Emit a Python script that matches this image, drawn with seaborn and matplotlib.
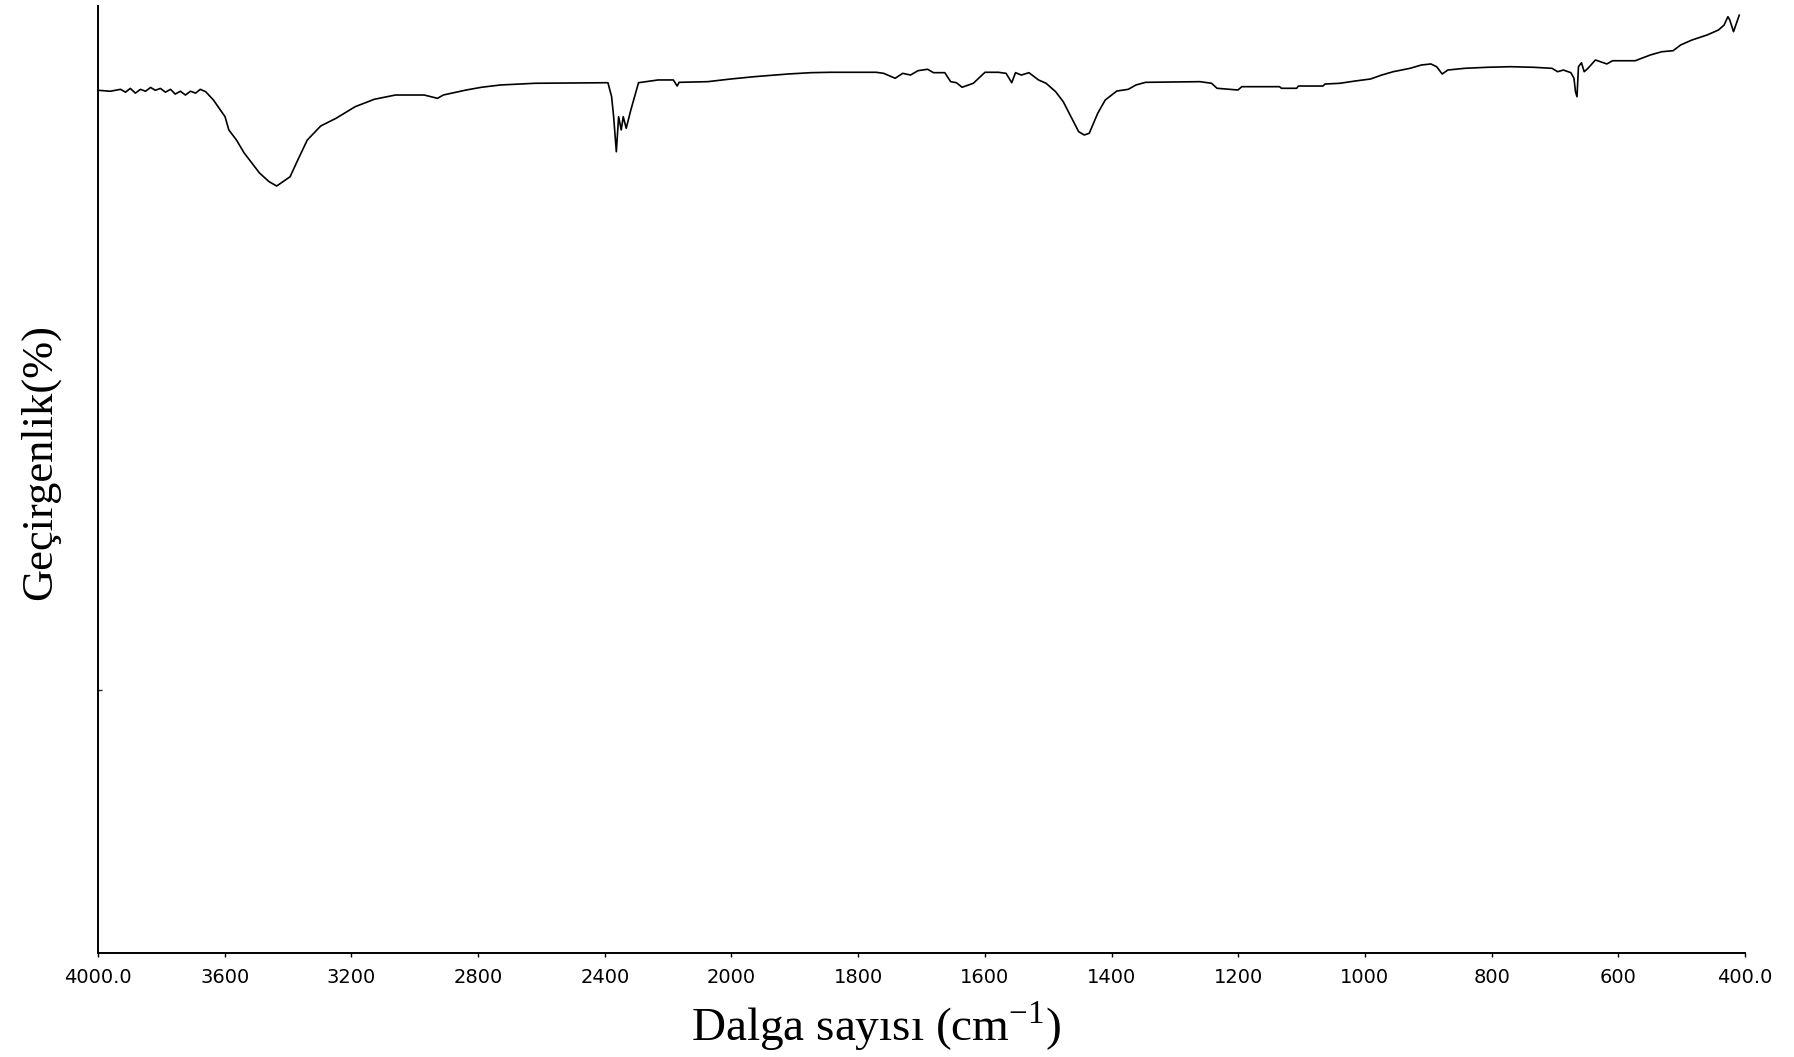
import numpy as np
import pandas as pd
import matplotlib
matplotlib.use("Agg")
import matplotlib.pyplot as plt
import seaborn as sns

# Wavenumber (cm^-1) and transmittance (%)
wavenumber = [
    4000, 3961, 3929, 3913, 3898, 3882, 3866, 3850, 3834, 3819, 3803, 3787, 3771,
    3756, 3740, 3724, 3708, 3692, 3677, 3660, 3635.5, 3598.9, 3586.9, 3562.9,
    3538.5, 3490.2, 3459.9, 3435.9, 3393.5, 3369.2, 3339.2, 3296.9, 3248.6,
    3187.9, 3127.6, 3060.9, 2970.3, 2928, 2910, 2837.3, 2789, 2729, 2620, 2390,
    2378.4, 2372, 2363.5, 2356.3, 2348, 2341.7, 2332.3, 2317.7, 2293.4, 2231.8,
    2183.5, 2171.5, 2165.2, 2075.1, 2002.5,
    1965, 1910.6, 1874.3, 1844.2, 1771.8, 1759.7, 1741.6, 1729.6, 1717.4,
    1705.5, 1690.3, 1681.2, 1663.2, 1654, 1644.9, 1635.9, 1618.1, 1599.8,
    1578.7, 1566.5, 1557.5, 1551.6, 1542.4, 1530.4, 1515.3, 1503.3, 1488.2,
    1476.2, 1464, 1451.9, 1443.1, 1435.2, 1421.8, 1410, 1391.7, 1373.7, 1361.4,
    1346.3, 1260.2, 1242.2, 1233.4, 1200.4, 1194.4, 1134.8, 1131.8, 1107.8,
    1104.9, 1066.2, 1063.1, 1039.4, 1015.3, 991.3, 973.5, 955.5, 928.7, 910.8,
    895.9, 886.8, 878, 869.1, 842.3, 806.2, 770.4, 734.6, 704.7, 695.7, 686.8,
    674.9, 670, 667.6, 665.2, 662.9, 658.1, 653.9, 647.9, 636.1, 618.1, 609.1,
    573.3, 549.3, 531.4, 513.5, 501.7, 483.7, 459.8, 441.8, 433, 427, 424,
    418.1, 409,
]
transmittance = [
    91.1, 91.0, 91.2, 90.9, 91.3, 90.8, 91.2, 91.0, 91.4, 91.1, 91.3, 90.9, 91.2,
    90.7, 91.0, 90.6, 91.0, 90.8, 91.2, 90.95, 90.07, 88.31, 86.91, 85.85,
    84.48, 82.37, 81.45, 80.99, 81.97, 83.74, 85.85, 87.33, 88.14,
    89.37, 90.15, 90.60, 90.60, 90.25, 90.60, 91.13, 91.42, 91.66, 91.84, 91.90,
    90.42, 88.31, 84.61, 88.31, 86.91, 88.31, 87.09, 89.02, 91.90, 92.19,
    92.19, 91.55, 91.94, 92.01, 92.29,
    92.53, 92.82, 92.96, 93.00, 93.00, 92.89, 92.37, 92.89, 92.71,
    93.17, 93.32, 92.96, 92.96, 92.01, 91.90, 91.42, 91.84, 93.00,
    93.00, 92.89, 91.90, 92.96, 92.71, 92.96, 92.19, 91.84, 90.95,
    89.89, 88.31, 86.73, 86.38, 86.56, 88.67, 90.07, 91.02, 91.20, 91.66,
    91.94, 92.01, 91.84, 91.31, 91.13, 91.48, 91.48, 91.31, 91.31,
    91.55, 91.55, 91.76, 91.84, 92.08, 92.29, 92.71, 93.06, 93.42, 93.77,
    93.88, 93.59, 92.82, 93.24, 93.42, 93.53, 93.59, 93.53, 93.42, 93.06, 93.24,
    92.96, 92.37, 90.95, 90.42, 93.59, 94.01, 93.06, 93.42, 94.30, 93.88, 94.22,
    94.22, 94.83, 95.17, 95.28, 95.88, 96.41, 96.94, 97.47, 97.99, 98.87, 98.52,
    97.29, 99.05,
]

tick_values = [4000, 3600, 3200, 2800, 2400, 2000, 1800, 1600, 1400, 1200, 1000, 800, 600, 400]
tick_labels = ["4000.0", "3600", "3200", "2800", "2400", "2000", "1800", "1600",
               "1400", "1200", "1000", "800", "600", "400.0"]

x_label = "Dalga sayısı (cm$^{\\mathregular{-1}}$)"
y_label = "Geçirgenlik(%)"

sns.set_style("white")
plt.rcParams["font.family"] = ["DejaVu Sans"]
plt.rcParams["mathtext.fontset"] = "custom"
plt.rcParams["mathtext.rm"] = "Liberation Serif"

df = pd.DataFrame({"wn": wavenumber, "T": transmittance})

fig = plt.figure(figsize=(17.94, 10.57), dpi=100)
ax = fig.add_axes([98 / 1794, 1 - 953 / 1057, (1745 - 98) / 1794, (953 - 6) / 1057])

sns.lineplot(data=df, x="wn", y="T", ax=ax, color="black", linewidth=1.2,
             estimator=None, sort=True)


def fwd(x):
    x = np.asarray(x, dtype=float)
    return np.where(x > 2000, 2000 + (x - 2000) / 2.0, x)


def inv(y):
    y = np.asarray(y, dtype=float)
    return np.where(y > 2000, 2000 + (y - 2000) * 2.0, y)


ax.set_xscale("function", functions=(fwd, inv))
ax.set_xlim(4000, 400)
ax.set_ylim(0, 100)

ax.set_xticks(tick_values)
ax.set_xticklabels(tick_labels)
ax.xaxis.set_minor_locator(matplotlib.ticker.NullLocator())
ax.set_yticks([27.8])
ax.set_yticklabels([""])

ax.tick_params(axis="x", direction="out", length=3, width=1, colors="black",
               labelsize=14, pad=8, bottom=True)
ax.tick_params(axis="y", direction="in", length=3, width=1, left=True)

for s in ["top", "right"]:
    ax.spines[s].set_visible(False)
for s in ["left", "bottom"]:
    ax.spines[s].set_color("black")
    ax.spines[s].set_linewidth(1.4)

ax.set_xlabel(x_label, fontsize=34, family="Liberation Serif", color="black")
ax.set_ylabel(y_label, fontsize=32, family="Liberation Serif", color="black")
ax.xaxis.set_label_coords((876 - 98) / (1745 - 98), -(1026 - 953) / (953 - 6))
ax.yaxis.set_label_coords(-(98 - 40) / (1745 - 98), (953 - 462) / (953 - 6))
ax.xaxis.label.set_va("center")
ax.yaxis.label.set_va("center")
ax.grid(False)

fig.savefig("out.png", dpi=100, facecolor="white")
